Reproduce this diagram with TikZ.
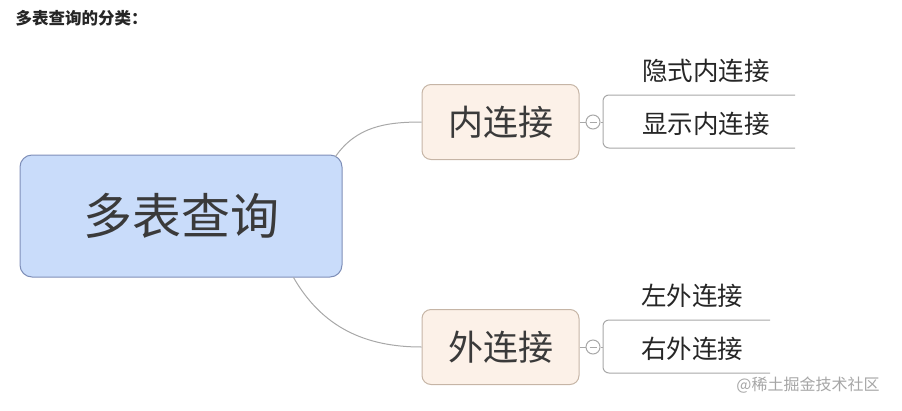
\documentclass[tikz,border=0pt]{standalone}
\usepackage{fontspec}
\newfontfamily\cjk{Noto Sans CJK SC}
\definecolor{rootFill}{HTML}{C9DCFA}
\definecolor{rootDraw}{HTML}{7F8FB8}
\definecolor{branchFill}{HTML}{FCF1E8}
\definecolor{branchDraw}{HTML}{C6B5A6}
\definecolor{lineGray}{HTML}{A8A8A8}
\definecolor{textGray}{HTML}{3A3A3A}
\begin{document}
\begin{tikzpicture}
[x=1pt,y=-1pt,
  rootDecorate/.style={shape=rectangle,rounded corners=12pt,draw=rootDraw,fill=rootFill,
    line width=1pt,minimum width=322pt,minimum height=122pt,text=textGray,
    font=\cjk\fontsize{49}{49}\selectfont},%
  branchDecorate/.style={shape=rectangle,rounded corners=9pt,draw=branchDraw,fill=branchFill,
    line width=1pt,minimum width=157pt,minimum height=75pt,text=textGray,
    font=\cjk\fontsize{35}{35}\selectfont},%
  leafDecorate/.style={inner sep=0pt,text=black!85,font=\cjk\fontsize{25.5}{25.5}\selectfont},%
  lineDecorate/.style={-,draw=lineGray,line width=1pt},%
  foldDecorate/.style={shape=circle,draw=lineGray,fill=white,line width=1pt,
    minimum size=14pt,inner sep=0pt,
    path picture={\draw[lineGray,line width=1pt]
      ([xshift=-3.5pt]path picture bounding box.center) --
      ([xshift=3.5pt]path picture bounding box.center);}}]
\useasboundingbox (0,0) rectangle (902,410);
%% title and root
\node (title) at (12,18) [anchor=west,text=black!85,font=\cjk\bfseries\fontsize{16.5}{16.5}\selectfont] {多表查询的分类：};
\node (root) at (181,216) [rootDecorate] {多表查询};
%% branches, fold buttons and leaves
\foreach \nodename/\nodelabel/\y/\xend/\xtext/\toplabel/\botlabel in {
  inner/内连接/122/795/706/隐式内连接/显示内连接,
  outer/外连接/347/770/692/左外连接/右外连接}
{
  \node (\nodename) at (500.5,\y) [branchDecorate] {\nodelabel};
  \node (\nodename fold) at (593,\y) [foldDecorate] {};
  \node (\nodename top) at (\xtext,\y-51) [leafDecorate] {\toplabel};
  \node (\nodename bot) at (\xtext,\y+2) [leafDecorate] {\botlabel};
  \coordinate (\nodename topend) at (\xend,\y-27);
  \coordinate (\nodename botend) at (\xend,\y+26);
  \coordinate (\nodename knee) at (603,\y);
  \draw[lineDecorate] (\nodename.east) -- (\nodename fold.west);
  \draw[lineDecorate] (\nodename fold.east) -- (\nodename knee);
  \draw[lineDecorate,rounded corners=6pt] (\nodename topend) -- (\nodename topend -| \nodename knee)
    -- (\nodename botend -| \nodename knee) -- (\nodename botend);
}
%% edges or lines
\draw[lineDecorate] ([xshift=-7pt,yshift=-2pt]root.north east) to[out=55,in=180] (inner.west);
\draw[lineDecorate] ([xshift=-49pt]root.south east) to[out=-60,in=180] (outer.west);
%% watermark
\node (mark) at (808,385) [text=black!35,font=\cjk\fontsize{16}{16}\selectfont] {@稀土掘金技术社区};
\end{tikzpicture}
\end{document}
